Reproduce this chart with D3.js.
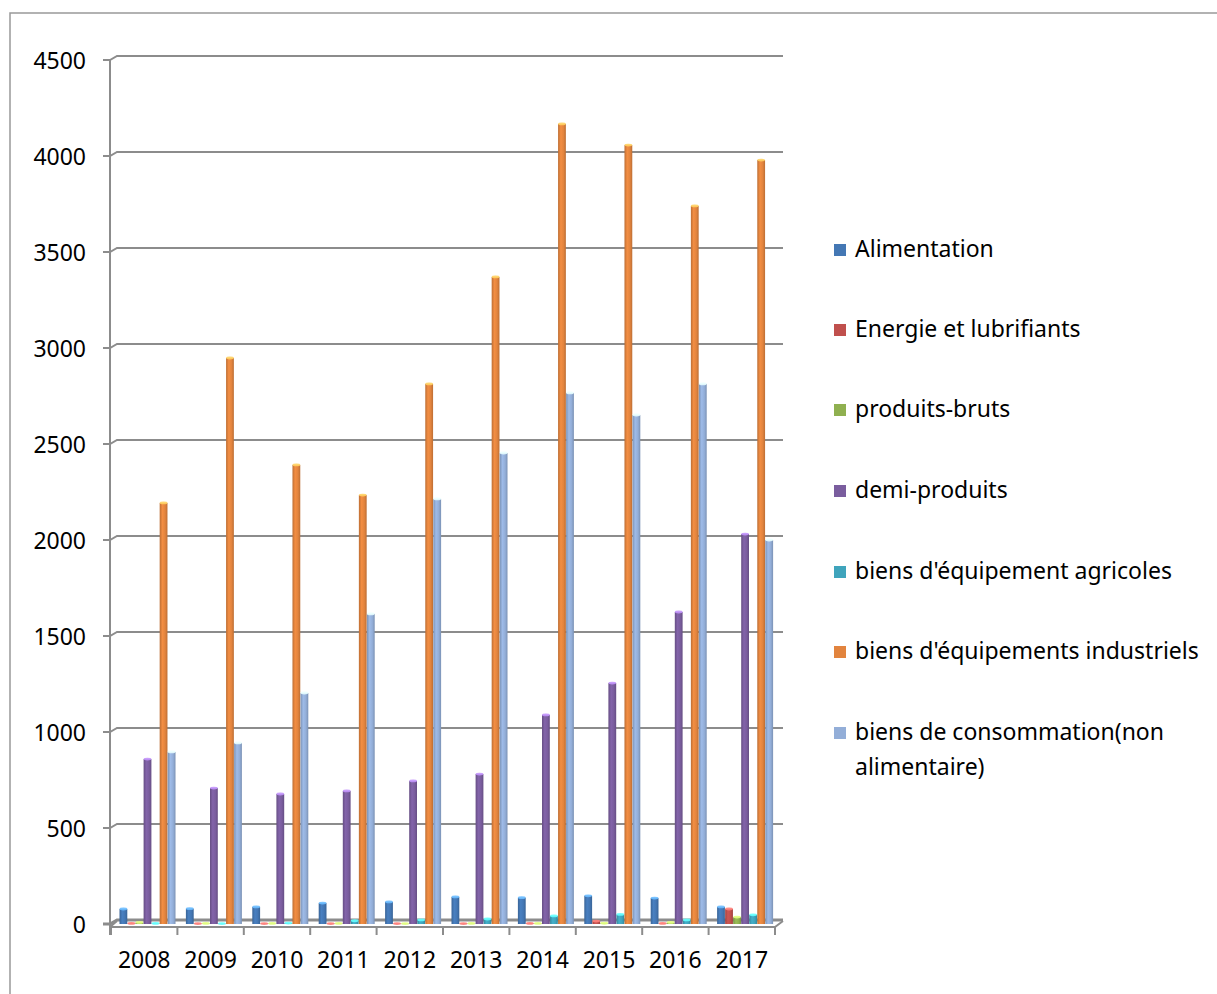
<!DOCTYPE html>
<html>
<head>
<meta charset="utf-8">
<script src="https://cdn.jsdelivr.net/npm/d3@7/dist/d3.min.js"></script>
<style>
  html, body { margin: 0; padding: 0; background: #fff; }
  svg { display: block; }
  text { font-family: "Noto Sans", "Open Sans", sans-serif; fill: #000; }
</style>
</head>
<body>
<svg id="chart" width="1217" height="994"></svg>
<script>
const years = ["2008","2009","2010","2011","2012","2013","2014","2015","2016","2017"];
const seriesNames = ["Alimentation","Energie et lubrifiants","produits-bruts","demi-produits",
  "biens d'équipement agricoles","biens d'équipements industriels","biens de consommation(non alimentaire)"];
const legendLines = [["Alimentation"],["Energie et lubrifiants"],["produits-bruts"],["demi-produits"],
  ["biens d'équipement agricoles"],["biens d'équipements industriels"],["biens de consommation(non","alimentaire)"]];
const colors = ["#4477B4","#C0504D","#8FB050","#7A5D9E","#3FA4BC","#E2843E","#93AED8"];

const alimentation = [78, 80, 89, 109, 115, 141, 137, 147, 135, 89];
const energie      = [3, 2, 2, 2, 2, 2, 3, 15, 3, 78];
const bruts        = [8, 3, 3, 3, 2, 3, 3, 4, 8, 36];
const demi         = [859, 708, 677, 693, 745, 781, 1089, 1255, 1625, 2031];
const agricoles    = [3, 2, 5, 17, 21, 26, 42, 50, 21, 48];
const industriels  = [2193, 2948, 2391, 2234, 2813, 3370, 4167, 4057, 3740, 3979];
const consommation = [896, 943, 1203, 1615, 2214, 2453, 2766, 2651, 2813, 2000];
const yTicks = [0, 500, 1000, 1500, 2000, 2500, 3000, 3500, 4000, 4500];

const seriesValues = [alimentation, energie, bruts, demi, agricoles, industriels, consommation];

const svg = d3.select("#chart");
const grey = "#8c8c8c";

// outer border (extends past right/bottom edges)
svg.append("rect").attr("x", 10).attr("y", 13).attr("width", 1230).attr("height", 1000)
  .attr("fill", "none").attr("stroke", "#999").attr("stroke-width", 1.5);

const yBack = d3.scaleLinear().domain([0, 4500]).range([920, 56]);
const yFront = d3.scaleLinear().domain([0, 4500]).range([924, 60]);
const x = d3.scaleBand().domain(years).range([111, 775]).padding(0);
const xi = d3.scaleBand().domain(d3.range(7)).range([8.5, 64.5]).paddingInner(0.03);

// defs: gradients for 3D-like columns
const defs = svg.append("defs");
colors.forEach((c, i) => {
  const g = defs.append("linearGradient").attr("id", "g" + i).attr("x1", "0").attr("x2", "1").attr("y1", "0").attr("y2", "0");
  const base = d3.color(c);
  g.append("stop").attr("offset", "0%").attr("stop-color", base.darker(0.5));
  g.append("stop").attr("offset", "35%").attr("stop-color", base.brighter(0.2));
  g.append("stop").attr("offset", "70%").attr("stop-color", base);
  g.append("stop").attr("offset", "100%").attr("stop-color", base.darker(0.5));
});

// gridlines with 3D corner
const gridG = svg.append("g");
yTicks.forEach(v => {
  const gy = yBack(v);
  gridG.append("path")
    .attr("d", `M103,${gy + 4} L110,${gy + 4} L117,${gy} L783,${gy}`)
    .attr("fill", "none").attr("stroke", grey).attr("stroke-width", v === 0 ? 3 : 2);
});

// vertical axis line
svg.append("line").attr("x1", 110).attr("x2", 110).attr("y1", yBack(4500) + 3).attr("y2", 935)
  .attr("stroke", grey).attr("stroke-width", 2);

// bottom axis with 3D corner
svg.append("path").attr("d", `M110,927 L775,927 L783,921`).attr("fill", "none")
  .attr("stroke", grey).attr("stroke-width", 2);
svg.append("path").attr("d", `M110,927 L117,921`).attr("fill", "none")
  .attr("stroke", grey).attr("stroke-width", 2);
const boundaries = years.map(y => x(y)).concat([x(years[years.length - 1]) + x.bandwidth()]);
boundaries.forEach(bx => {
  svg.append("line").attr("x1", bx).attr("x2", bx).attr("y1", 927).attr("y2", 935)
    .attr("stroke", grey).attr("stroke-width", 2);
});

// y labels
svg.append("g").selectAll("text").data(yTicks).join("text")
  .attr("x", 86).attr("y", d => yBack(d) + 7).attr("text-anchor", "end")
  .attr("dominant-baseline", "middle").attr("font-size", 23).text(d => d);

// x labels
svg.append("g").selectAll("text").data(years).join("text")
  .attr("x", d => x(d) + x.bandwidth() / 2).attr("y", 962).attr("text-anchor", "middle")
  .attr("dominant-baseline", "middle").attr("font-size", 23).text(d => d);

// bars
const barsG = svg.append("g");
years.forEach((yr, j) => {
  seriesValues.forEach((vals, i) => {
    const v = vals[j];
    const bx = x(yr) + xi(i);
    const bw = xi.bandwidth();
    const top = yFront(v);
    const h = yFront(0) - top;
    barsG.append("rect").attr("x", bx).attr("y", top).attr("width", bw).attr("height", Math.max(h, 0.5))
      .attr("fill", `url(#g${i})`);
    barsG.append("ellipse").attr("cx", bx + bw / 2).attr("cy", top).attr("rx", bw / 2).attr("ry", 1.4)
      .attr("fill", d3.color(colors[i]).brighter(1.3)).attr("opacity", 0.9);
  });
});

// legend
const legendY = [250, 330, 410, 491, 572, 652, 733];
const lg = svg.append("g");
legendLines.forEach((lines, i) => {
  lg.append("rect").attr("x", 834).attr("y", legendY[i] - 6).attr("width", 12).attr("height", 12)
    .attr("fill", colors[i]);
  lines.forEach((t, k) => {
    lg.append("text").attr("x", 855).attr("y", legendY[i] + 1 + k * 35)
      .attr("dominant-baseline", "middle").attr("font-size", 23).text(t);
  });
});
</script>
</body>
</html>
